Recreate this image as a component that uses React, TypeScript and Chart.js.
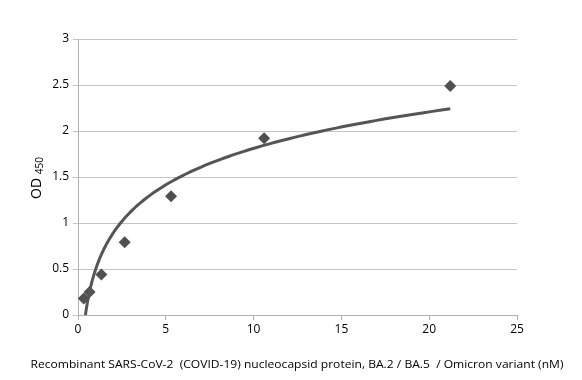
import React, { useEffect, useRef } from "react";
import { Chart, registerables } from "chart.js";

Chart.register(...registerables);

const concentrations = [0.33, 0.66, 1.33, 2.66, 5.3, 10.6, 21.2];
const odValues = [0.18, 0.25, 0.44, 0.79, 1.29, 1.92, 2.49];
const xTicks = [0, 5, 10, 15, 20, 25];
const yTicks = [0, 0.5, 1, 1.5, 2, 2.5, 3];
const xTitle = "Recombinant SARS-CoV-2  (COVID-19) nucleocapsid protein, BA.2 / BA.5  / Omicron variant (nM)";
const yTitleMain = "OD";
const yTitleSub = "450";

// Logarithmic least-squares trendline (like a spreadsheet log trendline)
function logFit(xs: number[], ys: number[]) {
  const lx = xs.map((v) => Math.log(v));
  const n = xs.length;
  const mx = lx.reduce((a, b) => a + b, 0) / n;
  const my = ys.reduce((a, b) => a + b, 0) / n;
  let sxy = 0, sxx = 0;
  for (let i = 0; i < n; i++) {
    sxy += (lx[i] - mx) * (ys[i] - my);
    sxx += (lx[i] - mx) * (lx[i] - mx);
  }
  const a = sxy / sxx;
  const b = my - a * mx;
  return { a, b };
}

const FONT = "'Open Sans', 'Liberation Sans', sans-serif";

const titlePlugin = {
  id: "customTitles",
  afterDraw(chart: any) {
    const ctx = chart.ctx;
    ctx.save();
    ctx.fillStyle = "#000";
    ctx.font = `11px ${FONT}`;
    ctx.textAlign = "center";
    ctx.textBaseline = "middle";
    const w = ctx.measureText(xTitle).width;
    const target = 533;
    ctx.translate(297, 365);
    ctx.scale(target / w, 1);
    ctx.fillText(xTitle, 0, 0);
    ctx.restore();

    ctx.save();
    ctx.translate(37, 178);
    ctx.rotate(-Math.PI / 2);
    ctx.fillStyle = "#000";
    ctx.textBaseline = "middle";
    ctx.font = `14px ${FONT}`;
    const mw = ctx.measureText(yTitleMain + " ").width;
    ctx.font = `10px ${FONT}`;
    const sw = ctx.measureText(yTitleSub).width;
    const total = mw + sw;
    ctx.font = `14px ${FONT}`;
    ctx.textAlign = "left";
    ctx.fillText(yTitleMain, -total / 2, 0);
    ctx.font = `10px ${FONT}`;
    ctx.fillText(yTitleSub, -total / 2 + mw, 3);
    ctx.restore();
  },
};

export default function App() {
  const ref = useRef<HTMLCanvasElement | null>(null);
  useEffect(() => {
    document.body.style.margin = "0";
    const { a, b } = logFit(concentrations, odValues);
    const xStart = Math.exp(-b / a);
    const xEnd = concentrations[concentrations.length - 1];
    const trend: { x: number; y: number }[] = [];
    const steps = 80;
    for (let i = 0; i <= steps; i++) {
      const t = i / steps;
      const x = xStart * Math.pow(xEnd / xStart, t);
      trend.push({ x, y: Math.max(0, a * Math.log(x) + b) });
    }
    const chart = new Chart(ref.current as HTMLCanvasElement, {
      type: "scatter",
      data: {
        datasets: [
          {
            data: trend,
            showLine: true,
            borderColor: "#555555",
            borderWidth: 3,
            pointRadius: 0,
            tension: 0.01,
            borderJoinStyle: "round",
            fill: false,
          } as any,
          {
            data: concentrations.map((x, i) => ({ x, y: odValues[i] })),
            pointStyle: "rectRot",
            pointRadius: 6,
            backgroundColor: "#505050",
            borderColor: "#505050",
            borderWidth: 0,
          },
        ],
      },
      options: {
        animation: false,
        responsive: false,
        plugins: { legend: { display: false }, tooltip: { enabled: false } },
        layout: { padding: { left: 0, right: 65, top: 39, bottom: 0 } },
        scales: {
          x: {
            type: "linear",
            min: 0,
            max: 25,
            afterBuildTicks: (s: any) => { s.ticks = xTicks.map((v) => ({ value: v })); },
            afterFit: (s: any) => { s.height = 65; },
            grid: { drawOnChartArea: false, drawTicks: true, tickLength: 5, color: "#b0b0b0" },
            border: { color: "#b0b0b0" },
            ticks: { color: "#000", font: { family: FONT, size: 12 }, padding: 2, maxRotation: 0, callback: (v: any) => String(v) },
          },
          y: {
            type: "linear",
            min: 0,
            max: 3,
            afterBuildTicks: (s: any) => { s.ticks = yTicks.map((v) => ({ value: v })); },
            afterFit: (s: any) => { s.width = 78; },
            grid: { color: "#c4c4c4", tickLength: 5 },
            border: { color: "#b0b0b0" },
            ticks: { color: "#000", font: { family: FONT, size: 12 }, padding: 4, callback: (v: any) => String(v) },
          },
        },
      },
      plugins: [titlePlugin],
    });
    return () => chart.destroy();
  }, []);
  return <canvas ref={ref} width={582} height={380} style={{ display: "block" }} />;
}
